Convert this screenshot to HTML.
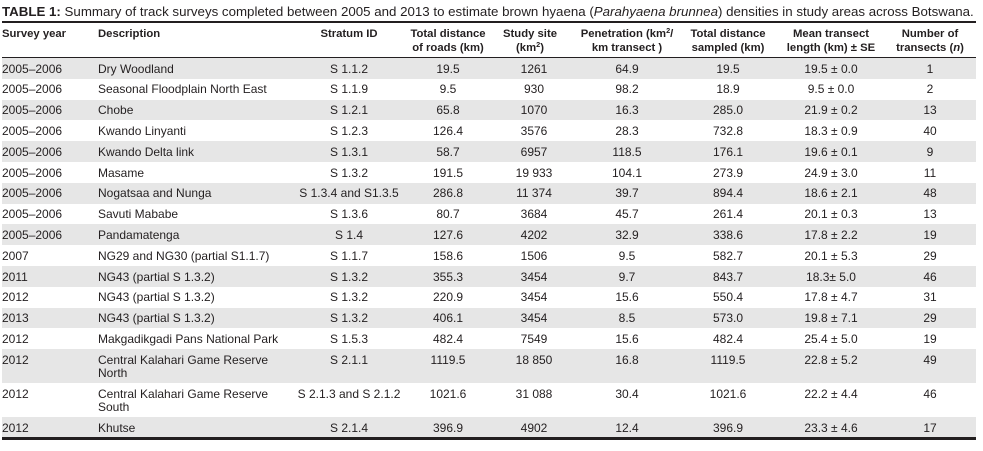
<!DOCTYPE html>
<html><head><meta charset="utf-8">
<style>
*{margin:0;padding:0;box-sizing:border-box}
body{width:983px;height:451px;background:#fff;position:relative;overflow:hidden;font-family:"Liberation Sans",Arial,sans-serif;color:#231f20}
.t{position:absolute;left:2px;top:4px;font-size:13.3px;line-height:16px;white-space:nowrap}
.ln{position:absolute;left:2px;width:974px;background:#231f20}
.r{position:absolute;left:2px;width:974px}
.g{background:#e6e6e6}
.c{position:absolute;top:4.5px;font-size:12px;line-height:13px;white-space:nowrap}
.h .c{top:0;font-weight:bold;font-size:11.3px;line-height:14px}
.c1{left:0;width:96px;text-align:left}
.c2{left:96px;width:200px;text-align:left}
.c3{left:287px;width:120px;text-align:center}
.c4{left:396px;width:100px;text-align:center}
.c5{left:492px;width:80px;text-align:center}
.c6{left:565px;width:120px;text-align:center}
.c7{left:676px;width:100px;text-align:center}
.c8{left:769px;width:120px;text-align:center}
.c9{left:888px;width:80px;text-align:center}
sup{font-size:0.65em;line-height:0;vertical-align:0.55em}
</style></head><body>
<div class="t"><b>TABLE 1:</b> Summary of track surveys completed between 2005 and 2013 to estimate brown hyaena (<i>Parahyaena brunnea</i>) densities in study areas across Botswana.</div>
<div class="ln" style="top:21px;height:2px"></div>
<div class="r h" style="top:27px;height:30px">
<div class="c c1">Survey year</div>
<div class="c c2">Description</div>
<div class="c c3">Stratum ID</div>
<div class="c c4">Total distance<br>of roads (km)</div>
<div class="c c5" style="left:488px">Study site<br>(km<sup>2</sup>)</div>
<div class="c c6">Penetration (km<sup>2</sup>/<br>km transect )</div>
<div class="c c7">Total distance<br>sampled (km)</div>
<div class="c c8">Mean transect<br>length (km) ± SE</div>
<div class="c c9">Number of<br>transects (<i>n</i>)</div>
</div>
<div class="ln" style="top:57px;height:1px"></div>

<div class="r g" style="top:58px;height:20.8px"><div class="c c1">2005–2006</div><div class="c c2">Dry Woodland</div><div class="c c3">S 1.1.2</div><div class="c c4">19.5</div><div class="c c5">1261</div><div class="c c6">64.9</div><div class="c c7">19.5</div><div class="c c8">19.5 ± 0.0</div><div class="c c9">1</div></div>
<div class="r" style="top:78.8px;height:20.8px"><div class="c c1">2005–2006</div><div class="c c2">Seasonal Floodplain North East</div><div class="c c3">S 1.1.9</div><div class="c c4">9.5</div><div class="c c5">930</div><div class="c c6">98.2</div><div class="c c7">18.9</div><div class="c c8">9.5 ± 0.0</div><div class="c c9">2</div></div>
<div class="r g" style="top:99.6px;height:20.8px"><div class="c c1">2005–2006</div><div class="c c2">Chobe</div><div class="c c3">S 1.2.1</div><div class="c c4">65.8</div><div class="c c5">1070</div><div class="c c6">16.3</div><div class="c c7">285.0</div><div class="c c8">21.9 ± 0.2</div><div class="c c9">13</div></div>
<div class="r" style="top:120.4px;height:20.8px"><div class="c c1">2005–2006</div><div class="c c2">Kwando Linyanti</div><div class="c c3">S 1.2.3</div><div class="c c4">126.4</div><div class="c c5">3576</div><div class="c c6">28.3</div><div class="c c7">732.8</div><div class="c c8">18.3 ± 0.9</div><div class="c c9">40</div></div>
<div class="r g" style="top:141.2px;height:20.8px"><div class="c c1">2005–2006</div><div class="c c2">Kwando Delta link</div><div class="c c3">S 1.3.1</div><div class="c c4">58.7</div><div class="c c5">6957</div><div class="c c6">118.5</div><div class="c c7">176.1</div><div class="c c8">19.6 ± 0.1</div><div class="c c9">9</div></div>
<div class="r" style="top:162px;height:20.8px"><div class="c c1">2005–2006</div><div class="c c2">Masame</div><div class="c c3">S 1.3.2</div><div class="c c4">191.5</div><div class="c c5">19 933</div><div class="c c6">104.1</div><div class="c c7">273.9</div><div class="c c8">24.9 ± 3.0</div><div class="c c9">11</div></div>
<div class="r g" style="top:182.8px;height:20.8px"><div class="c c1">2005–2006</div><div class="c c2">Nogatsaa and Nunga</div><div class="c c3">S 1.3.4 and S1.3.5</div><div class="c c4">286.8</div><div class="c c5">11 374</div><div class="c c6">39.7</div><div class="c c7">894.4</div><div class="c c8">18.6 ± 2.1</div><div class="c c9">48</div></div>
<div class="r" style="top:203.6px;height:20.8px"><div class="c c1">2005–2006</div><div class="c c2">Savuti Mababe</div><div class="c c3">S 1.3.6</div><div class="c c4">80.7</div><div class="c c5">3684</div><div class="c c6">45.7</div><div class="c c7">261.4</div><div class="c c8">20.1 ± 0.3</div><div class="c c9">13</div></div>
<div class="r g" style="top:224.4px;height:20.8px"><div class="c c1">2005–2006</div><div class="c c2">Pandamatenga</div><div class="c c3">S 1.4</div><div class="c c4">127.6</div><div class="c c5">4202</div><div class="c c6">32.9</div><div class="c c7">338.6</div><div class="c c8">17.8 ± 2.2</div><div class="c c9">19</div></div>
<div class="r" style="top:245.2px;height:20.8px"><div class="c c1">2007</div><div class="c c2">NG29 and NG30 (partial S1.1.7)</div><div class="c c3">S 1.1.7</div><div class="c c4">158.6</div><div class="c c5">1506</div><div class="c c6">9.5</div><div class="c c7">582.7</div><div class="c c8">20.1 ± 5.3</div><div class="c c9">29</div></div>
<div class="r g" style="top:266px;height:20.8px"><div class="c c1">2011</div><div class="c c2">NG43 (partial S 1.3.2)</div><div class="c c3">S 1.3.2</div><div class="c c4">355.3</div><div class="c c5">3454</div><div class="c c6">9.7</div><div class="c c7">843.7</div><div class="c c8">18.3± 5.0</div><div class="c c9">46</div></div>
<div class="r" style="top:286.8px;height:20.8px"><div class="c c1">2012</div><div class="c c2">NG43 (partial S 1.3.2)</div><div class="c c3">S 1.3.2</div><div class="c c4">220.9</div><div class="c c5">3454</div><div class="c c6">15.6</div><div class="c c7">550.4</div><div class="c c8">17.8 ± 4.7</div><div class="c c9">31</div></div>
<div class="r g" style="top:307.6px;height:20.8px"><div class="c c1">2013</div><div class="c c2">NG43 (partial S 1.3.2)</div><div class="c c3">S 1.3.2</div><div class="c c4">406.1</div><div class="c c5">3454</div><div class="c c6">8.5</div><div class="c c7">573.0</div><div class="c c8">19.8 ± 7.1</div><div class="c c9">29</div></div>
<div class="r" style="top:328.4px;height:20.8px"><div class="c c1">2012</div><div class="c c2">Makgadikgadi Pans National Park</div><div class="c c3">S 1.5.3</div><div class="c c4">482.4</div><div class="c c5">7549</div><div class="c c6">15.6</div><div class="c c7">482.4</div><div class="c c8">25.4 ± 5.0</div><div class="c c9">19</div></div>
<div class="r g" style="top:349.2px;height:34px"><div class="c c1">2012</div><div class="c c2">Central Kalahari Game Reserve<br>North</div><div class="c c3">S 2.1.1</div><div class="c c4">1119.5</div><div class="c c5">18 850</div><div class="c c6">16.8</div><div class="c c7">1119.5</div><div class="c c8">22.8 ± 5.2</div><div class="c c9">49</div></div>
<div class="r" style="top:383.2px;height:34px"><div class="c c1">2012</div><div class="c c2">Central Kalahari Game Reserve<br>South</div><div class="c c3">S 2.1.3 and S 2.1.2</div><div class="c c4">1021.6</div><div class="c c5">31 088</div><div class="c c6">30.4</div><div class="c c7">1021.6</div><div class="c c8">22.2 ± 4.4</div><div class="c c9">46</div></div>
<div class="r g" style="top:417.2px;height:20px"><div class="c c1">2012</div><div class="c c2">Khutse</div><div class="c c3">S 2.1.4</div><div class="c c4">396.9</div><div class="c c5">4902</div><div class="c c6">12.4</div><div class="c c7">396.9</div><div class="c c8">23.3 ± 4.6</div><div class="c c9">17</div></div>
<div class="ln" style="top:437px;height:3px"></div>
</body></html>
